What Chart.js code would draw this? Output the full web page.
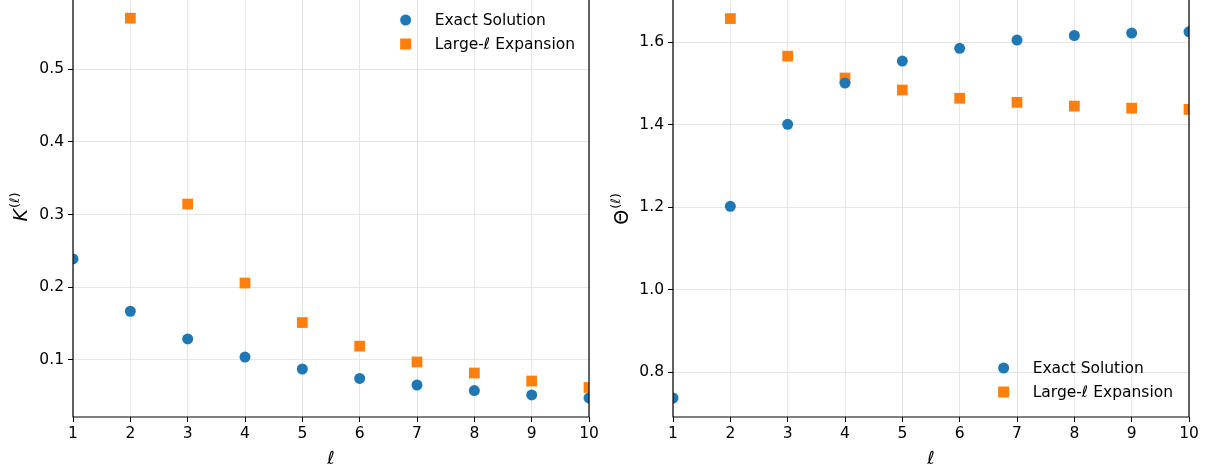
<!DOCTYPE html>
<html>
<head>
<meta charset="utf-8">
<script src="https://cdn.jsdelivr.net/npm/chart.js@4"></script>
<style>
  body { margin: 0; background: #fff; }
  #wrap { position: relative; width: 1214px; height: 470px; }
</style>
</head>
<body>
<div id="wrap">
  <div style="position:absolute;left:0;top:0;width:600px;height:470px"><canvas id="kChart"></canvas></div>
  <div style="position:absolute;left:600px;top:0;width:614px;height:470px"><canvas id="thetaChart"></canvas></div>
</div>
<script>
var ells = [1, 2, 3, 4, 5, 6, 7, 8, 9, 10];

var kExact = [0.239, 0.167, 0.129, 0.104, 0.0876, 0.0746, 0.0656, 0.058, 0.0519, 0.0478];
var kLarge = [null, 0.570, 0.3144, 0.2058, 0.1515, 0.119, 0.0973, 0.0821, 0.0711, 0.0622];

var thetaExact = [0.738, 1.2024, 1.401, 1.5007, 1.554, 1.585, 1.605, 1.616, 1.622, 1.625];
var thetaLarge = [null, 1.657, 1.566, 1.513, 1.484, 1.464, 1.454, 1.445, 1.440, 1.437];

var xTicks = [1, 2, 3, 4, 5, 6, 7, 8, 9, 10];
var kTicks = [0.1, 0.2, 0.3, 0.4, 0.5];
var thetaTicks = [0.8, 1.0, 1.2, 1.4, 1.6];

var BLUE = '#1f77b4';
var ORANGE = '#ff7f0e';
var FONT = 'DejaVu Sans';

function pts(ys) {
  var out = [];
  for (var i = 0; i < ells.length; i++) {
    if (ys[i] !== null) out.push({ x: ells[i], y: ys[i] });
  }
  return out;
}

// spines, legend inside the plot, and the y label with its superscript
var framePlugin = {
  id: 'frame',
  afterDraw: function(chart, args, opts) {
    var a = chart.chartArea, ctx = chart.ctx;
    ctx.save();
    ctx.strokeStyle = '#000';
    ctx.lineWidth = 1.2;
    ctx.beginPath();
    ctx.moveTo(a.left, a.top);
    ctx.lineTo(a.left, a.bottom);
    ctx.lineTo(a.right, a.bottom);
    ctx.lineTo(a.right, a.top);
    ctx.stroke();

    // legend
    var rows = [
      { label: 'Exact Solution', color: BLUE, shape: 'circle' },
      { label: 'Large-ℓ Expansion', color: ORANGE, shape: 'rect' }
    ];
    ctx.font = '15.5px "' + FONT + '"';
    ctx.textBaseline = 'middle';
    var w = 0;
    rows.forEach(function(r) { w = Math.max(w, ctx.measureText(r.label).width); });
    var textX = a.right - opts.right - w;
    var markX = textX - 29;
    var y0 = opts.top !== undefined ? a.top + opts.top : a.bottom - opts.bottom - 24;
    rows.forEach(function(r, i) {
      var y = y0 + i * 24;
      ctx.fillStyle = r.color;
      if (r.shape === 'circle') {
        ctx.beginPath();
        ctx.arc(markX, y, 5.5, 0, Math.PI * 2);
        ctx.fill();
      } else {
        ctx.fillRect(markX - 5.5, y - 5.5, 11, 11);
      }
      ctx.fillStyle = '#000';
      ctx.fillText(r.label, textX, y + 1);
    });

    // y axis label: main symbol + superscript (ℓ)
    ctx.translate(opts.titleX, opts.titleY);
    ctx.rotate(-Math.PI / 2);
    ctx.textBaseline = 'alphabetic';
    ctx.textAlign = 'left';
    var mainFont = (opts.italic ? 'italic ' : '') + '19px "' + FONT + '"';
    var supFont = '13px "' + FONT + '"';
    ctx.font = mainFont;
    var wMain = ctx.measureText(opts.symbol).width;
    ctx.font = supFont;
    var wSup = ctx.measureText('(ℓ)').width;
    var start = -(wMain + wSup + 1) / 2;
    ctx.fillStyle = '#000';
    ctx.font = mainFont;
    ctx.fillText(opts.symbol, start, 0);
    ctx.font = supFont;
    ctx.fillText('(ℓ)', start + wMain + 1, -8);
    ctx.restore();
  }
};

function makeChart(id, exact, large, yMin, yMax, yTicks, frameOpts, padRight) {
  var ctx = document.getElementById(id).getContext('2d');
  return new Chart(ctx, {
    type: 'scatter',
    data: {
      datasets: [{
        label: 'Exact Solution',
        data: pts(exact),
        backgroundColor: BLUE,
        borderColor: BLUE,
        pointStyle: 'circle',
        pointRadius: 5.5,
        pointHoverRadius: 5.5,
        borderWidth: 0,
        clip: 0
      }, {
        label: 'Large-ℓ Expansion',
        data: pts(large),
        backgroundColor: ORANGE,
        borderColor: ORANGE,
        pointStyle: 'rect',
        pointRadius: 7.6,
        pointHoverRadius: 7.6,
        borderWidth: 0,
        clip: 0
      }]
    },
    options: {
      responsive: true,
      maintainAspectRatio: false,
      animation: false,
      layout: { autoPadding: false, padding: { left: 0, right: padRight, top: 0, bottom: 0 } },
      plugins: {
        legend: { display: false },
        tooltip: { enabled: false },
        frame: frameOpts
      },
      scales: {
        x: {
          type: 'linear',
          min: 1,
          max: 10,
          afterBuildTicks: function(s) { s.ticks = xTicks.map(function(v) { return { value: v }; }); },
          afterFit: function(s) { s.height = 53; s.paddingLeft = 0; s.paddingRight = 0; },
          grid: { color: '#e6e6e6', lineWidth: 1, tickColor: '#000', tickLength: 5, tickWidth: 1 },
          border: { display: false },
          ticks: { color: '#000', padding: 3, maxRotation: 0, font: { family: FONT, size: 15.5 } },
          title: { display: true, text: 'ℓ', color: '#000', padding: { top: 0, bottom: 0 }, font: { family: FONT, size: 18, style: 'italic' } }
        },
        y: {
          min: yMin,
          max: yMax,
          afterBuildTicks: function(s) { s.ticks = yTicks.map(function(v) { return { value: v }; }); },
          afterFit: function(s) { s.width = 73; s.paddingTop = 0; s.paddingBottom = 0; },
          grid: { color: '#e6e6e6', lineWidth: 1, tickColor: '#000', tickLength: 5, tickWidth: 1 },
          border: { display: false },
          ticks: {
            color: '#000', padding: 4, font: { family: FONT, size: 15.5 },
            callback: function(v) { return Number(v).toFixed(1); }
          }
        }
      }
    },
    plugins: [framePlugin]
  });
}

makeChart('kChart', kExact, kLarge, 0.0216, 0.595, kTicks,
  { right: 14, top: 20, symbol: 'K', italic: true, titleX: 27, titleY: 207 }, 11);
makeChart('thetaChart', thetaExact, thetaLarge, 0.692, 1.702, thetaTicks,
  { right: 16, bottom: 25, symbol: 'Θ', italic: false, titleX: 28, titleY: 209 }, 25);
</script>
</body>
</html>
